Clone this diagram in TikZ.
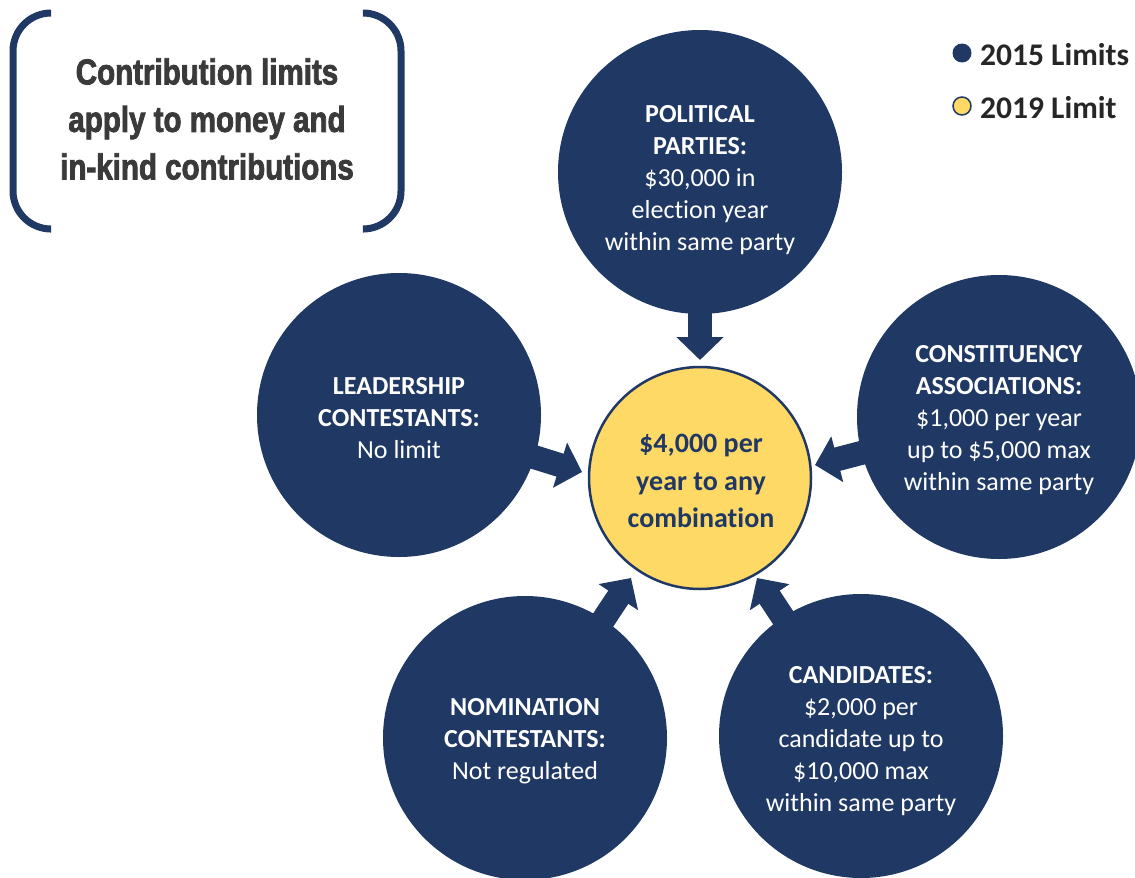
\documentclass[tikz,border=0pt]{standalone}
\usepackage{fontspec}
\setmainfont{Carlito}[Ligatures={NoCommon}]
\newfontfamily\condfont[FakeStretch=0.82,BoldFeatures={FakeBold=2.2}]{Liberation Sans}
\usetikzlibrary{arrows.meta}
\definecolor{navy}{HTML}{203864}
\definecolor{gold}{HTML}{FFD966}
\definecolor{titlegray}{HTML}{3A3A3A}
\tikzset{
  bubble/.style={circle, fill=navy, minimum size=284pt, inner sep=0pt},
  bubbletext/.style={text=white, align=center, font=\fontsize{26}{32}\selectfont},
  flow/.style={navy, line width=24pt, -{Triangle[width=46pt,length=23pt]}},
  bracketline/.style={navy, line width=7pt, rounded corners=38pt},
  legendtext/.style={anchor=west, text=black!85, font=\fontsize{31.5}{36}\selectfont\bfseries, inner sep=0pt},
}
\begin{document}
\begin{tikzpicture}[x=1pt,y=-1pt]
\useasboundingbox (0,0) rectangle (1135,878);
\clip (0,0) rectangle (1135,878);
% centre and tip coordinates
\coordinate (ptop) at (700,172);
\coordinate (plead) at (399,415);
\coordinate (pcons) at (999,417);
\coordinate (pnom) at (525,738);
\coordinate (pcand) at (861,736);
\coordinate (ttop) at (700,360);
\coordinate (tlead) at (582,472);
\coordinate (tcons) at (815,465);
\coordinate (tnom) at (631,578);
\coordinate (tcand) at (757,578);
% arrows
\draw[flow] (ptop) -- (ttop);
\draw[flow] (plead) -- (tlead);
\draw[flow] (pcons) -- (tcons);
\draw[flow] (pnom) -- (tnom);
\draw[flow] (pcand) -- (tcand);
% bubbles
\node[bubble] (top) at (ptop) {};
\node[bubble] (lead) at (plead) {};
\node[bubble] (cons) at (pcons) {};
\node[bubble] (nom) at (pnom) {};
\node[bubble] (cand) at (pcand) {};
\node[bubbletext] (toptext) at (700,180) {\textbf{POLITICAL}\\\textbf{PARTIES:}\\\$30,000 in\\election year\\within same party};
\node[bubbletext] (leadtext) at (399,418) {\textbf{LEADERSHIP}\\\textbf{CONTESTANTS:}\\No limit};
\node[bubbletext] (constext) at (999,420) {\textbf{CONSTITUENCY}\\\textbf{ASSOCIATIONS:}\\\$1,000 per year\\up to \$5,000 max\\within same party};
\node[bubbletext] (nomtext) at (525,741) {\textbf{NOMINATION}\\\textbf{CONTESTANTS:}\\Not regulated};
\node[bubbletext] (candtext) at (861,741) {\textbf{CANDIDATES:}\\\$2,000 per\\candidate up to\\\$10,000 max\\within same party};
\node[circle, fill=gold, draw=navy, line width=2.5pt, minimum size=222pt, inner sep=0pt] (centre) at (700,478) {};
\node[text=navy, align=center, font=\fontsize{28}{37.5}\selectfont\bfseries] (centretext) at (701,481) {\$4,000 per\\year to any\\combination};
% title bracket
\draw[bracketline] (50,13) -- (13,13) -- (13,229) -- (50,229);
\draw[bracketline] (364,13) -- (401,13) -- (401,229) -- (364,229);
\node[text=titlegray, align=center, font=\condfont\fontsize{36}{47.5}\selectfont\bfseries] (title) at (207,119) {Contribution limits\\apply to money and\\in-kind contributions};
% legend
\node[circle, fill=navy, minimum size=19pt, inner sep=0pt] (l1) at (962,53) {};
\node[circle, fill=gold, draw=navy, line width=1.5pt, minimum size=18pt, inner sep=0pt] (l2) at (962,106) {};
\node[legendtext] (t1) at (980,55) {2015 Limits};
\node[legendtext] (t2) at (980,108) {2019 Limit};
\end{tikzpicture}
\end{document}
